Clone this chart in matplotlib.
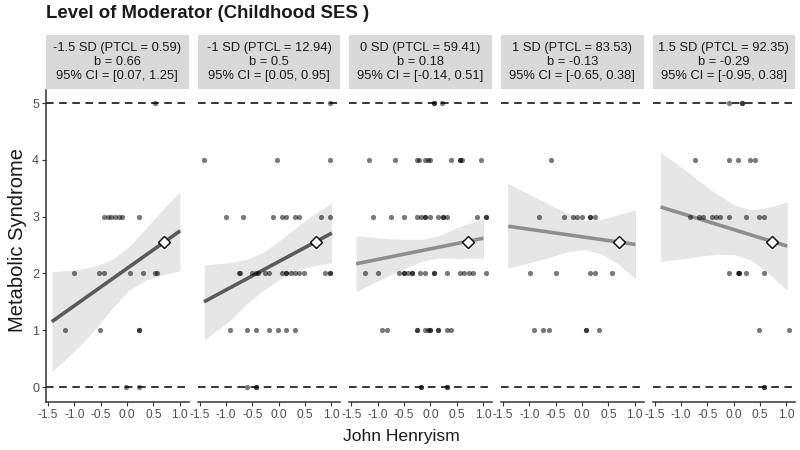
import matplotlib
matplotlib.use('Agg')
import matplotlib.pyplot as plt

plt.rcParams['font.family'] = ['Liberation Sans', 'DejaVu Sans']

TITLE = 'Level of Moderator (Childhood SES )'
XLABEL = 'John Henryism'
YLABEL = 'Metabolic Syndrome'

STRIP_LINES = [
    ['-1.5 SD (PTCL = 0.59)', 'b = 0.66', '95% CI = [0.07, 1.25]'],
    ['-1 SD (PTCL = 12.94)', 'b = 0.5', '95% CI = [0.05, 0.95]'],
    ['0 SD (PTCL = 59.41)', 'b = 0.18', '95% CI = [-0.14, 0.51]'],
    ['1 SD (PTCL = 83.53)', 'b = -0.13', '95% CI = [-0.65, 0.38]'],
    ['1.5 SD (PTCL = 92.35)', 'b = -0.29', '95% CI = [-0.95, 0.38]'],
]

XTICKS = [-1.5, -1.0, -0.5, 0.0, 0.5, 1.0]
XTICK_LABELS = ['-1.5', '-1.0', '-0.5', '0.0', '0.5', '1.0']
YTICKS = [0, 1, 2, 3, 4, 5]
REF_LINES = [0, 5]

# raw points, one pair of lists per panel
P1_X = [0.54,
        -0.44, -0.37, -0.30, -0.23, -0.16, -0.095, 0.22,
        -1.01, -0.53, -0.44, 0.05, 0.30, 0.54, 0.57,
        -1.17, -0.52, 0.22, 0.22,
        -0.015, 0.22]
P1_Y = [5,
        3, 3, 3, 3, 3, 3, 3,
        2, 2, 2, 2, 2, 2, 2,
        1, 1, 1, 1,
        0, 0]

P2_X = [0.97,
        -1.42, -0.025, 0.97,
        -1.0, -0.675, -0.10, 0.064, 0.146, 0.31, 0.39, 0.80, 0.97,
        -0.757, -0.726, -0.51, -0.43, -0.39, -0.264, -0.18, 0.064, 0.146, 0.146,
        0.228, 0.31, 0.39, 0.474, 0.884, 0.97, 0.97,
        -0.927, -0.593, -0.43, -0.18, -0.018, 0.146, 0.31,
        -0.593, -0.43, -0.43]
P2_Y = [5,
        4, 4, 4,
        3, 3, 3, 3, 3, 3, 3, 3, 3,
        2, 2, 2, 2, 2, 2, 2, 2, 2, 2,
        2, 2, 2, 2, 2, 2, 2,
        1, 1, 1, 1, 1, 1, 1,
        0, 0, 0]

P3_X = [0.07, 0.07, 0.23,
        -1.16, -0.67, -0.26, -0.214, -0.093, -0.05, -0.012, 0.40, 0.56, 0.56, 0.61, 0.97,
        -1.085, -0.75, -0.504, -0.26, -0.176, -0.093, -0.093, -0.012, 0.153, 0.235,
        0.235, 0.316, 0.89, 1.055, 1.055,
        -1.24, -0.996, -0.586, -0.504, -0.504, -0.42, -0.34, -0.34, -0.201, -0.093,
        0.07, 0.07, 0.316, 0.56, 0.646, 0.727, 0.81, 1.055,
        -0.915, -0.83, -0.26, -0.26, -0.093, -0.05, -0.012, -0.012, 0.153, 0.153, 0.316, 0.40,
        -0.176, -0.176, 0.316, 0.316]
P3_Y = [5, 5, 5,
        4, 4, 4, 4, 4, 4, 4, 4, 4, 4, 4, 4,
        3, 3, 3, 3, 3, 3, 3, 3, 3, 3,
        3, 3, 3, 3, 3,
        2, 2, 2, 2, 2, 2, 2, 2, 2, 2,
        2, 2, 2, 2, 2, 2, 2, 2,
        1, 1, 1, 1, 1, 1, 1, 1, 1, 1, 1, 1,
        0, 0, 0, 0]

P4_X = [-0.585,
        -0.826, -0.333, -0.17, -0.087, -0.006, 0.159, 0.159, 0.24,
        -0.99, -0.498, 0.159, 0.24, 0.57,
        -0.908, -0.744, -0.636, 0.077, 0.077, 0.323]
P4_Y = [4,
        3, 3, 3, 3, 3, 3, 3, 3,
        2, 2, 2, 2, 2,
        1, 1, 1, 1, 1, 1]

P5_X = [-0.087, 0.16, 0.16,
        -0.74, -0.087, 0.077, 0.32, 0.405,
        -0.83, -0.66, -0.58, -0.415, -0.33, -0.25, -0.087, 0.24, 0.49, 0.57,
        -0.087, 0.077, 0.10, 0.10, 0.24, 0.57,
        0.49, 1.06,
        0.57, 0.57]
P5_Y = [5, 5, 5,
        4, 4, 4, 4, 4,
        3, 3, 3, 3, 3, 3, 3, 3, 3, 3,
        2, 2, 2, 2, 2, 2,
        1, 1,
        0, 0]

POINTS_X = [P1_X, P2_X, P3_X, P4_X, P5_X]
POINTS_Y = [P1_Y, P2_Y, P3_Y, P4_Y, P5_Y]

# fitted simple slopes (end points)
LINE_X0 = [-1.43, -1.42, -1.41, -1.40, -1.39]
LINE_X1 = [1.01, 1.01, 1.01, 1.017, 1.02]
LINE_Y0 = [1.15, 1.50, 2.17, 2.83, 3.17]
LINE_Y1 = [2.75, 2.71, 2.62, 2.51, 2.48]
LINE_COLORS = ['#5a5a5a', '#5a5a5a', '#8e8e8e', '#8e8e8e', '#8e8e8e']

DIAMOND_X = [0.70, 0.70, 0.71, 0.71, 0.73]
DIAMOND_Y = [2.56, 2.56, 2.56, 2.56, 2.56]

# confidence bands
BAND1_X = [-1.426, -0.91, -0.593, -0.277, 0.038, 0.354, 0.67, 1.004]
BAND1_HI = [2.03, 2.07, 2.13, 2.25, 2.47, 2.79, 3.12, 3.44]
BAND1_LO = [0.27, 0.71, 1.03, 1.39, 1.71, 1.88, 1.97, 2.05]

BAND2_X = [-1.413, -0.91, -0.597, -0.28, 0.036, 0.35, 0.66, 1.005]
BAND2_HI = [2.15, 2.19, 2.25, 2.38, 2.59, 2.82, 3.04, 3.23]
BAND2_LO = [0.83, 1.18, 1.47, 1.71, 1.91, 2.06, 2.13, 2.19]

BAND3_X = [-1.41, -0.77, -0.45, -0.14, 0.178, 0.49, 1.01]
BAND3_HI = [2.66, 2.61, 2.60, 2.60, 2.67, 2.80, 2.97]
BAND3_LO = [1.68, 1.97, 2.10, 2.22, 2.27, 2.26, 2.27]

BAND4_X = [-1.413, -0.91, -0.593, -0.277, 0.038, 0.354, 0.67, 1.017]
BAND4_HI = [3.59, 3.35, 3.20, 3.06, 2.94, 2.94, 3.03, 3.12]
BAND4_LO = [2.09, 2.21, 2.29, 2.38, 2.42, 2.35, 2.18, 1.91]

BAND5_X = [-1.39, -0.92, -0.605, -0.29, 0.027, 0.34, 0.66, 1.018]
BAND5_HI = [4.13, 3.82, 3.59, 3.38, 3.20, 3.12, 3.16, 3.26]
BAND5_LO = [2.21, 2.26, 2.31, 2.34, 2.33, 2.23, 2.00, 1.70]

BANDS = [(BAND1_X, BAND1_HI, BAND1_LO), (BAND2_X, BAND2_HI, BAND2_LO),
         (BAND3_X, BAND3_HI, BAND3_LO), (BAND4_X, BAND4_HI, BAND4_LO),
         (BAND5_X, BAND5_HI, BAND5_LO)]

W, H = 800, 450
LEFT, PANEL_W, GAP = 46, 142.6, 9.05
PLOT_TOP, PLOT_BOTTOM = 90, 402
STRIP_TOP, STRIP_BOTTOM = 35, 89

AXIS_COL = '#333333'
TICK_COL = '#4d4d4d'


def box(x0, y_top, w, h):
    return [x0 / W, 1 - (y_top + h) / H, w / W, h / H]


def draw_panel(fig, i):
    x0 = LEFT + i * (PANEL_W + GAP)
    ax = fig.add_axes(box(x0, PLOT_TOP, PANEL_W, PLOT_BOTTOM - PLOT_TOP))
    ax.set_xlim(-1.54, 1.17)
    ax.set_ylim(-0.264, 5.229)

    bx, hi, lo = BANDS[i]
    ax.fill_between(bx, lo, hi, color='#e6e6e6', lw=0, zorder=1)
    for yv in REF_LINES:
        ax.axhline(yv, color='black', lw=1.1, ls=(0, (5, 3.6)), zorder=2)
    ax.plot([LINE_X0[i], LINE_X1[i]], [LINE_Y0[i], LINE_Y1[i]],
            color=LINE_COLORS[i], lw=2.6, solid_capstyle='butt', zorder=3)
    ax.scatter(POINTS_X[i], POINTS_Y[i], s=14, color='black', alpha=0.53,
               linewidths=0, zorder=4)
    ax.plot(DIAMOND_X[i], DIAMOND_Y[i], marker='D', ms=6.5, mfc='white',
            mec='black', mew=1.0, zorder=5)

    for side in ['top', 'right']:
        ax.spines[side].set_visible(False)
    ax.spines['bottom'].set_color(AXIS_COL)
    ax.spines['bottom'].set_linewidth(1.1)
    ax.set_xticks(XTICKS)
    ax.set_xticklabels(XTICK_LABELS)
    ax.tick_params(axis='x', length=3, width=0.8, color=AXIS_COL,
                   labelcolor=TICK_COL, labelsize=8.6, pad=2)
    if i == 0:
        ax.spines['left'].set_color(AXIS_COL)
        ax.spines['left'].set_linewidth(1.1)
        ax.set_yticks(YTICKS)
        ax.tick_params(axis='y', length=3, width=0.8, color=AXIS_COL,
                       labelcolor=TICK_COL, labelsize=9, pad=2)
    else:
        ax.spines['left'].set_visible(False)
        ax.set_yticks([])

    strip = fig.add_axes(box(x0, STRIP_TOP, PANEL_W, STRIP_BOTTOM - STRIP_TOP))
    strip.set_facecolor('#d9d9d9')
    strip.set_xticks([])
    strip.set_yticks([])
    for s in strip.spines.values():
        s.set_visible(False)
    for line, yy in zip(STRIP_LINES[i], [0.76, 0.5, 0.24]):
        strip.text(0.5, yy, line, ha='center', va='center', fontsize=9.3,
                   color='#1a1a1a', transform=strip.transAxes)


def main():
    fig = plt.figure(figsize=(8, 4.5), dpi=100)
    for i in range(5):
        draw_panel(fig, i)
    fig.text(LEFT / W, 1 - 14 / H, TITLE, ha='left', va='center',
             fontsize=13.4, fontweight='bold', color='#1a1a1a')
    fig.text(401 / W, 1 - 437 / H, XLABEL, ha='center', va='center',
             fontsize=12.6, color='#1a1a1a')
    fig.text(18 / W, 1 - 240 / H, YLABEL, ha='center', va='center',
             rotation=90, fontsize=14.5, color='#1a1a1a')
    fig.savefig('out.png', dpi=100)


if __name__ == '__main__':
    main()
